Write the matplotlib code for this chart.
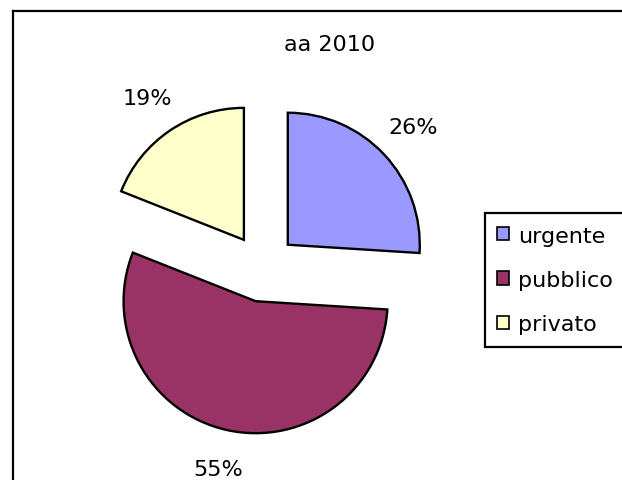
import matplotlib.pyplot as plt
from matplotlib.lines import Line2D
from matplotlib.patches import Patch

# data
labels = ["urgente", "pubblico", "privato"]
values = [26, 55, 19]
colors = ["#9999FF", "#993366", "#FFFFCC"]
title = "aa 2010"

W, H = 622, 481
fig = plt.figure(figsize=(W / 100, H / 100), dpi=100)
ax = fig.add_axes([0, 0, 1, 1])

# pixel-like coords, y going up
R = 132
wedges, texts, autotexts = ax.pie(
    values,
    explode=[34] * len(values),
    radius=R,
    center=(263, H - 269),
    startangle=90,
    counterclock=False,
    colors=colors,
    autopct=lambda p: "%d%%" % round(p),
    pctdistance=1.3,
    wedgeprops=dict(edgecolor="black", linewidth=1.7),
    textprops=dict(fontsize=16, color="black"),
)
ax.set_xlim(0, W)
ax.set_ylim(0, H)
ax.set_aspect("equal")
ax.axis("off")

ax.text(330, H - 45, title, ha="center", va="center", fontsize=16)

# chart area border (cut off on right/bottom)
ax.add_line(Line2D([13, 13], [0, H - 12], color="black", lw=1.6))
ax.add_line(Line2D([13, W], [H - 12, H - 12], color="black", lw=1.6))

handles = [Patch(facecolor=c, edgecolor="black", linewidth=1.2) for c in colors]
leg = ax.legend(
    handles, labels,
    loc="center left",
    bbox_to_anchor=(485 / W, (H - 281) / H),
    bbox_transform=fig.transFigure,
    fontsize=16,
    frameon=True,
    fancybox=False,
    framealpha=1,
    edgecolor="black",
    handlelength=0.55,
    handleheight=0.55,
    handletextpad=0.4,
    labelspacing=1.1,
    borderpad=0.55,
    borderaxespad=0,
)
leg.get_frame().set_linewidth(1.6)

fig.savefig("out.png", dpi=100)
